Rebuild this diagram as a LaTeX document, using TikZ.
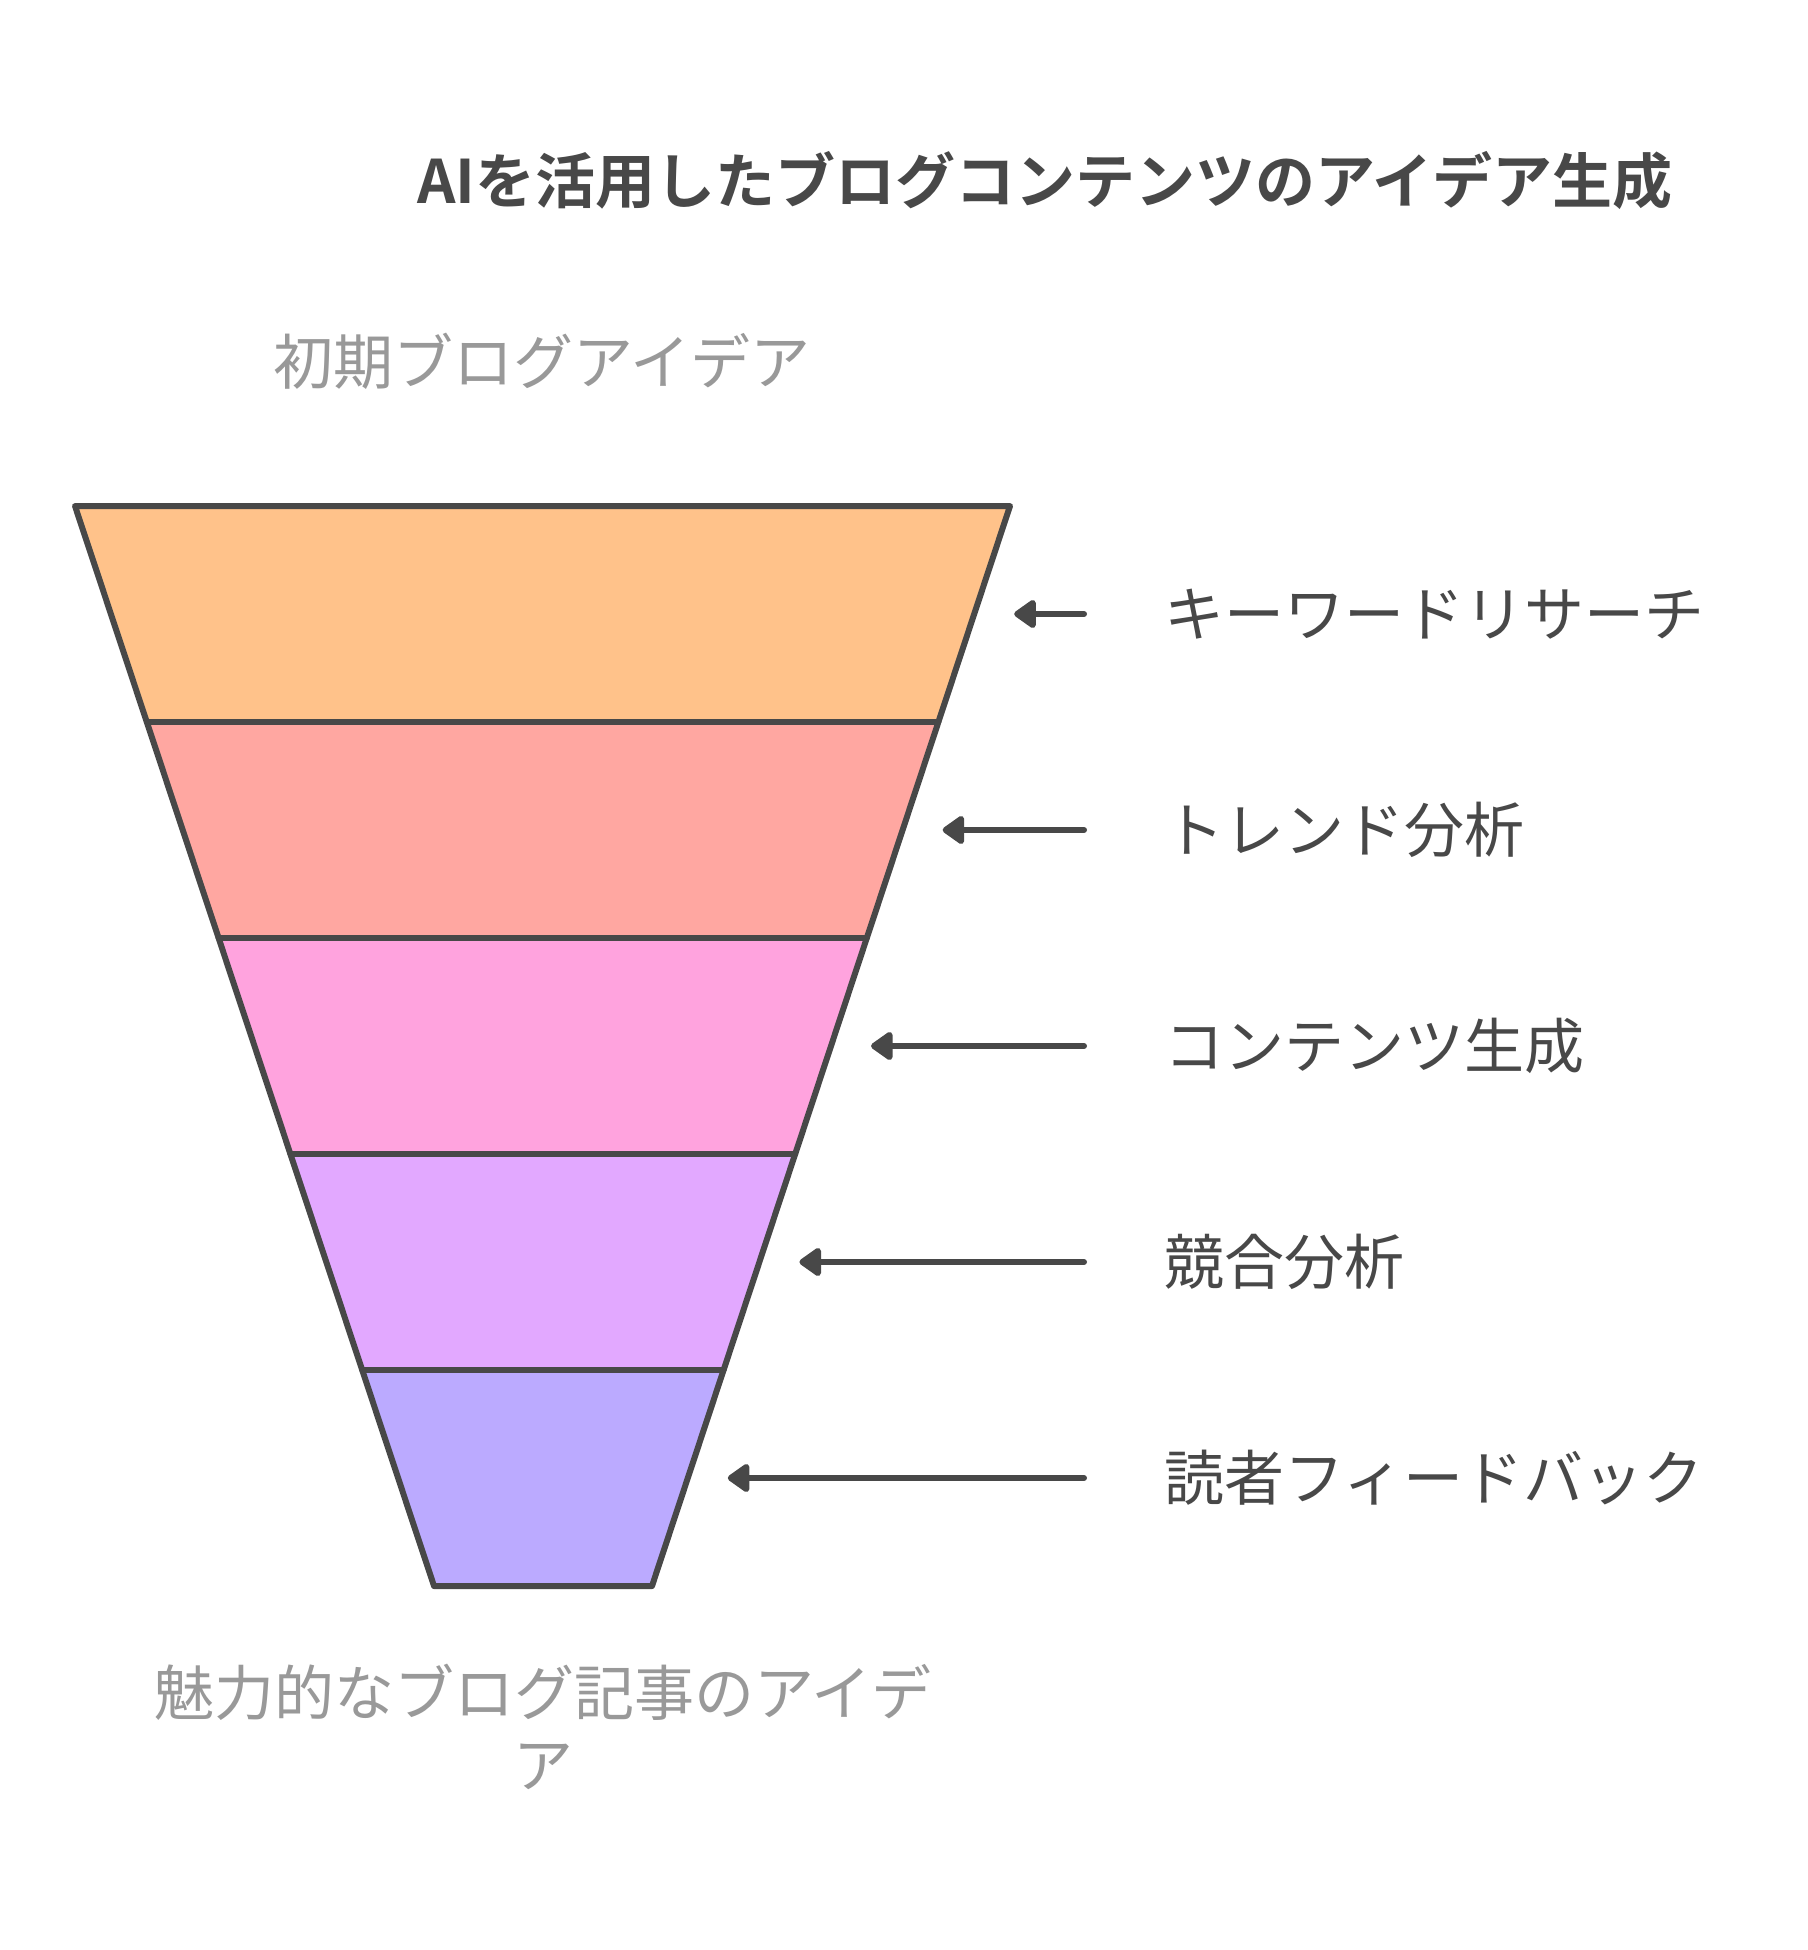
\documentclass[tikz,border=0pt]{standalone}
\usepackage{fontspec}
\newfontfamily\jp{Noto Sans CJK JP}
\newfontfamily\jpb{Noto Sans CJK JP Bold}
\usetikzlibrary{calc,arrows.meta}
\definecolor{ink}{HTML}{484848}
\definecolor{soft}{HTML}{999999}
\definecolor{bandA}{RGB}{255,194,138}
\definecolor{bandB}{RGB}{255,167,161}
\definecolor{bandC}{RGB}{255,163,222}
\definecolor{bandD}{RGB}{226,168,255}
\definecolor{bandE}{RGB}{187,170,255}
\tikzset{
  bandline/.style={draw=ink,line width=6pt,line join=round,line cap=round},
  pointer/.style={draw=ink,line width=6pt,line cap=round,-{Triangle[length=24pt,width=32pt,round]}},
  labeltext/.style={text=ink,font=\jp\fontsize{60}{72}\selectfont,anchor=west,inner sep=0pt},
  endtext/.style={text=soft,font=\jp\fontsize{60}{72}\selectfont,inner sep=0pt,align=center},
  titletext/.style={text=ink,font=\jpb\fontsize{60}{72}\selectfont,inner sep=0pt}
}
\begin{document}
\begin{tikzpicture}[x=1pt,y=-1pt]
\useasboundingbox (0,0) rectangle (1807,1950);
\fill[white] (0,0) rectangle (1807,1950);
\coordinate (TL) at (75,506);
\coordinate (TR) at (1010,506);
\coordinate (BL) at (434,1586);
\coordinate (BR) at (652,1586);
\foreach \k in {0,...,5}{
  \coordinate (L\k) at ($(TL)!\k/5!(BL)$);
  \coordinate (R\k) at ($(TR)!\k/5!(BR)$);
}
\fill[bandA] (L0) -- (R0) -- (R1) -- (L1) -- cycle;
\fill[bandB] (L1) -- (R1) -- (R2) -- (L2) -- cycle;
\fill[bandC] (L2) -- (R2) -- (R3) -- (L3) -- cycle;
\fill[bandD] (L3) -- (R3) -- (R4) -- (L4) -- cycle;
\fill[bandE] (L4) -- (R4) -- (R5) -- (L5) -- cycle;
\draw[bandline] (L0) -- (R0) -- (R5) -- (L5) -- cycle;
\foreach \k in {1,...,4}{\draw[bandline] (L\k) -- (R\k);}

\node[titletext] (title) at (1045,180) {AIを活用したブログコンテンツのアイデア生成};
\node[endtext] (start) at (542,361) {初期ブログアイデア};
\node[endtext] (finish) at (543,1727) {魅力的なブログ記事のアイデ\\ア};

\foreach \k/\t in {1/キーワードリサーチ,2/トレンド分析,3/コンテンツ生成,4/競合分析,5/読者フィードバック}{
  \coordinate (E\k) at ($(TR)!{(2*\k-1)/10}!(BR)$);
  \coordinate (tip\k) at ($(E\k)+(40,0)$);
  \coordinate (tail\k) at (1084,0 |- E\k);
  \node[labeltext] (lab\k) at (1164,0 |- E\k) {\t};
  \draw[pointer] (tail\k) -- (tip\k);
}
\end{tikzpicture}
\end{document}
